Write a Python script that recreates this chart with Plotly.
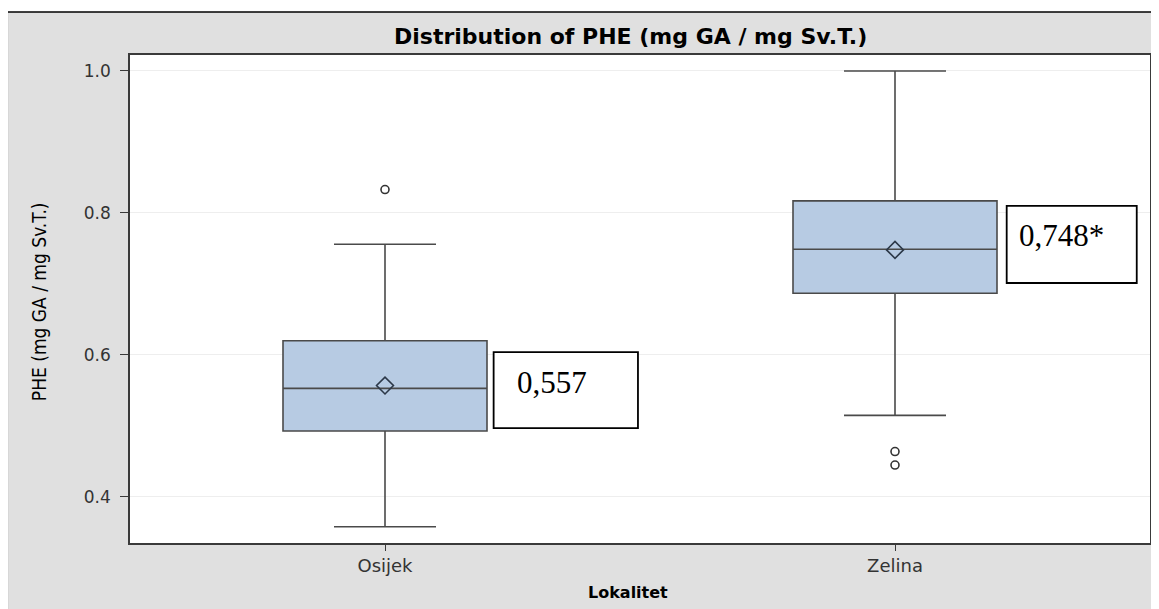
import plotly.graph_objects as go

# ---------------- data ----------------
categories = ["Osijek", "Zelina"]
q1 = [0.493, 0.687]
median = [0.553, 0.749]
q3 = [0.620, 0.817]
lower_whisker = [0.358, 0.515]
upper_whisker = [0.756, 1.000]
means = [0.557, 0.748]
outlier_cat = ["Osijek", "Zelina", "Zelina"]
outlier_val = [0.833, 0.464, 0.445]
label_texts = ["0,557", "0,748*"]
y_ticks = [0.4, 0.6, 0.8, 1.0]
y_ticktext = ["0.4", "0.6", "0.8", "1.0"]

# ---------------- layout constants ----------------
# the page body adds an 8px offset; work in screen pixels and shift
OFF = 8
W_SCR, H_SCR = 1159, 609
W_TOT, H_TOT = W_SCR - OFF, H_SCR - OFF
# plot area in screen pixels
X_L, X_R, Y_T, Y_B = 130, 1152, 55, 543
ML, MR, MT, MB = X_L - OFF, W_SCR - X_R, Y_T - OFF, H_SCR - Y_B
PW = X_R - X_L
PH = Y_B - Y_T


def px(xs):
    return (xs - X_L) / PW


def py(ys):
    return (Y_B - ys) / PH


BOX_FILL = "#b7cbe3"
LINE_COL = "#4a4a4a"
TEXT_COL = "#333333"
BG = "#e0e0e0"

fig = go.Figure()

fig.add_trace(go.Box(
    x=categories,
    q1=q1, median=median, q3=q3,
    lowerfence=lower_whisker, upperfence=upper_whisker,
    width=0.40, whiskerwidth=0.5,
    fillcolor=BOX_FILL,
    line=dict(color=LINE_COL, width=1.6),
    boxpoints=False,
    showlegend=False,
    hoverinfo="skip",
))

# mean diamonds
fig.add_trace(go.Scatter(
    x=categories, y=means, mode="markers",
    marker=dict(symbol="diamond-open", size=13, color="#2c3848",
                line=dict(width=1.6, color="#2c3848")),
    showlegend=False, hoverinfo="skip",
))

# outliers
fig.add_trace(go.Scatter(
    x=outlier_cat, y=outlier_val, mode="markers",
    marker=dict(symbol="circle-open", size=8, color="#333333",
                line=dict(width=1.6, color="#333333")),
    showlegend=False, hoverinfo="skip",
))

# label boxes (placement relative to category index)
label_rects = [  # (x0 offset, x1 offset, y0, y1)
    (0.213, 0.496, 0.497, 0.604),
    (0.219, 0.474, 0.7014, 0.810),
]
label_text_pos = [  # (x offset, y)
    (0.255, 0.561),
    (0.239, 0.7676),
]
shapes = []
annotations = []
for i, (rect, tp, txt) in enumerate(zip(label_rects, label_text_pos, label_texts)):
    shapes.append(dict(type="rect", xref="x", yref="y",
                       x0=i + rect[0], x1=i + rect[1], y0=rect[2], y1=rect[3],
                       line=dict(color="black", width=1.8), fillcolor="white",
                       layer="above"))
    annotations.append(dict(xref="x", yref="y", x=i + tp[0], y=tp[1],
                            xanchor="left", yanchor="middle", showarrow=False,
                            text=txt,
                            font=dict(family="Liberation Serif, Times New Roman, serif",
                                      size=31, color="black")))

# outer frame decoration: white strips above/left of a black frame line
shapes += [
    dict(type="rect", xref="paper", yref="paper", x0=px(-20), x1=px(W_SCR + 20),
         y0=py(12), y1=py(-20), fillcolor="white", line=dict(width=0), layer="above"),
    dict(type="rect", xref="paper", yref="paper", x0=px(-20), x1=px(7),
         y0=py(H_SCR + 20), y1=py(-20), fillcolor="white", line=dict(width=0), layer="above"),
    dict(type="line", xref="paper", yref="paper", x0=px(7), x1=px(W_SCR + 20),
         y0=py(12), y1=py(12), line=dict(color="black", width=1.6), layer="above"),
    dict(type="line", xref="paper", yref="paper", x0=px(7), x1=px(7),
         y0=py(12), y1=py(H_SCR + 20), line=dict(color="black", width=1.6), layer="above"),
]

# titles
annotations += [
    dict(xref="paper", yref="paper", x=px(631), y=py(36), xanchor="center", yanchor="middle",
         showarrow=False, text="<b>Distribution of PHE (mg GA / mg Sv.T.)</b>",
         font=dict(family="DejaVu Sans", size=22, color="black")),
    dict(xref="paper", yref="paper", x=px(629), y=py(592), xanchor="center", yanchor="middle",
         showarrow=False, text="<b>Lokalitet</b>",
         font=dict(family="DejaVu Sans", size=16, color="black")),
    dict(xref="paper", yref="paper", x=px(39), y=py(302), xanchor="center", yanchor="middle",
         showarrow=False, text="PHE (mg GA / mg Sv.T.)", textangle=-90,
         font=dict(family="DejaVu Sans Condensed, Liberation Sans Narrow, DejaVu Sans",
                   size=19, color="black")),
]

fig.update_layout(
    width=W_TOT, height=H_TOT,
    margin=dict(l=ML, r=MR, t=MT, b=MB),
    paper_bgcolor=BG, plot_bgcolor="white",
    shapes=shapes, annotations=annotations,
    showlegend=False,
)

fig.update_xaxes(
    type="category", range=[-0.5, 1.5],
    showline=True, mirror=True, linecolor="#3a3a3a", linewidth=1.6,
    ticks="outside", ticklen=6, tickcolor="#3a3a3a", tickwidth=1.2,
    showgrid=False, zeroline=False,
    tickfont=dict(family="DejaVu Sans", size=18, color=TEXT_COL),
)
fig.update_yaxes(
    range=[0.3352, 1.0225],
    tickvals=y_ticks, ticktext=y_ticktext,
    showline=True, mirror=True, linecolor="#3a3a3a", linewidth=1.6,
    ticks="outside", ticklen=8, tickcolor="#3a3a3a", tickwidth=1.2,
    ticklabelstandoff=6,
    showgrid=True, gridcolor="#eeeeee", gridwidth=1, zeroline=False,
    tickfont=dict(family="DejaVu Sans", size=17, color=TEXT_COL),
)

fig.write_html("out.html")
